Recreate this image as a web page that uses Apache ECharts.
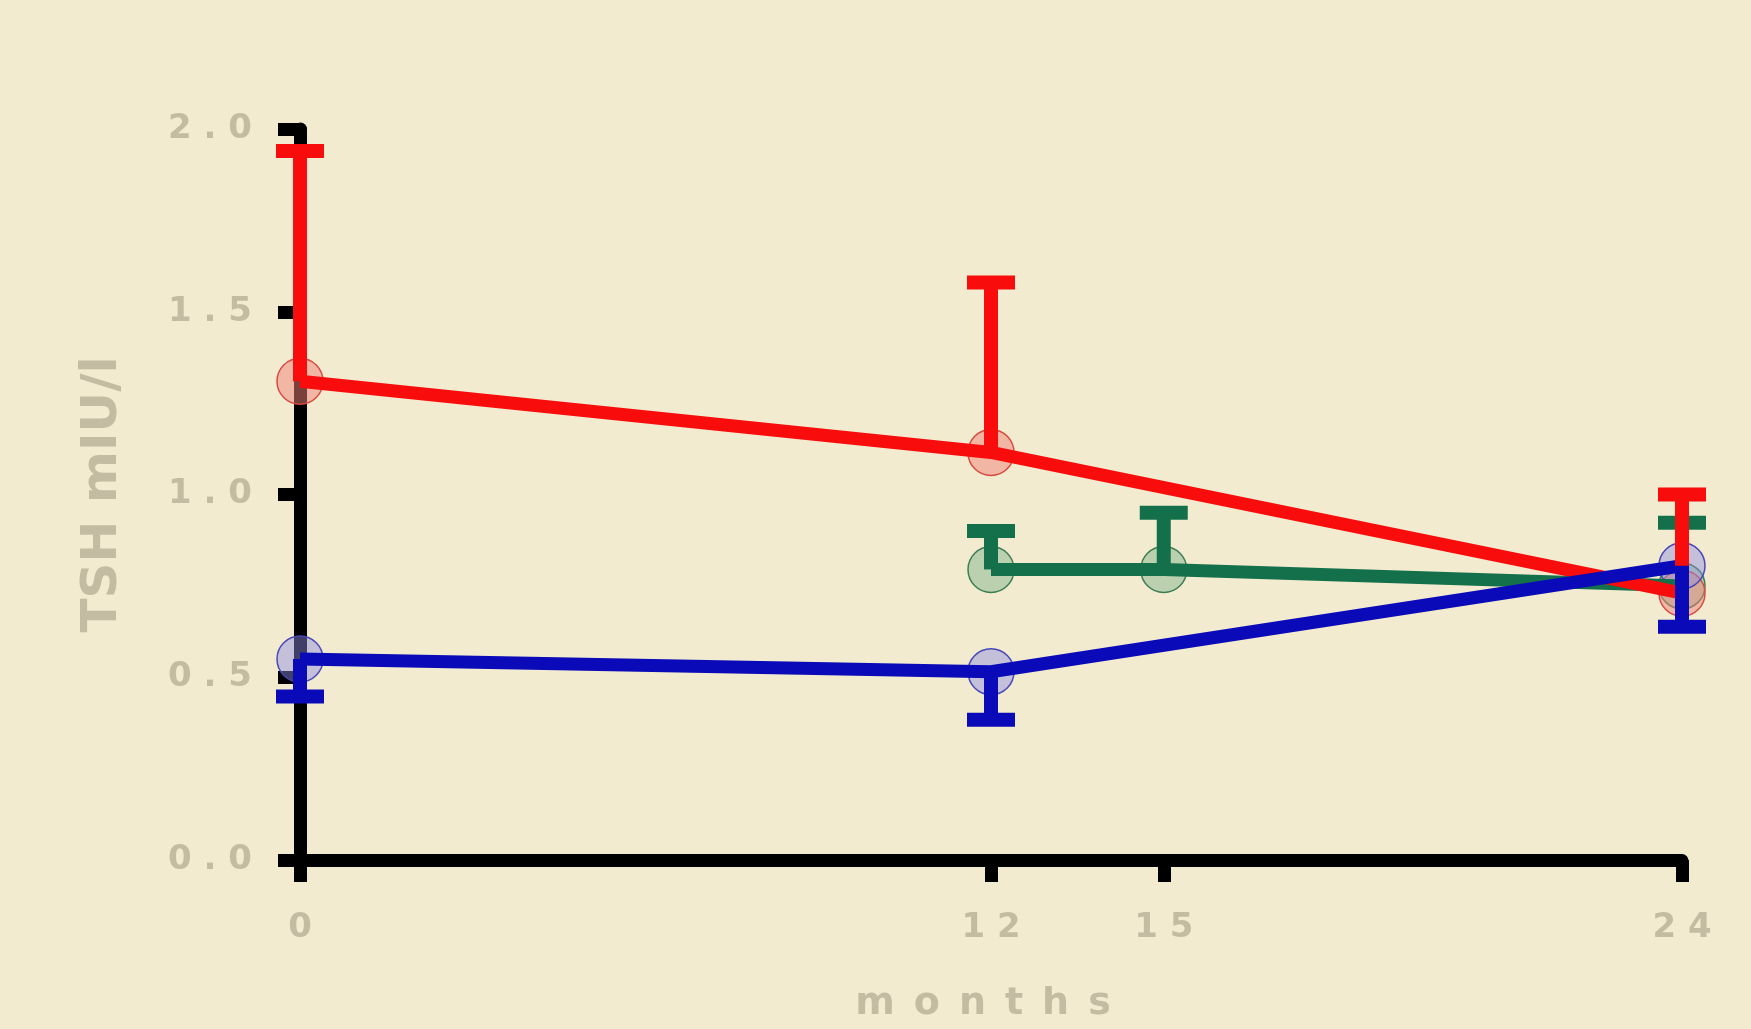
<!DOCTYPE html>
<html>
<head>
<meta charset="utf-8">
<script src="https://cdn.jsdelivr.net/npm/echarts@6/dist/echarts.min.js"></script>
<style>
  html, body { margin: 0; padding: 0; background: #f2ebd0; }
  #chart { width: 1751px; height: 1029px; }
</style>
</head>
<body>
<div id="chart"></div>
<script>
// tick positions
var monthTicks = [0, 12, 15, 24]
var tshTicks = [0, 0.5, 1.0, 1.5, 2.0]

// red group: mean and upper error
var redX = [0, 12, 24]
var redMean = [1.31, 1.115, 0.73]
var redErr = [0.63, 0.465, 0.27]

// green group: mean and upper error
var greenX = [12, 15, 24]
var greenMean = [0.795, 0.795, 0.75]
var greenErr = [0.105, 0.155, 0.173]

// blue group: mean and lower error
var blueX = [0, 12, 24]
var blueMean = [0.55, 0.515, 0.805]
var blueErr = [0.103, 0.131, 0.167]

var labelColor = '#c3bca3'
var font = 'DejaVu Sans'

// spread letters out like the original
function spaced (s, sep) {
  return String(s).split('').join(sep)
}

function pairs (xs, ys) {
  return xs.map(function (x, i) { return [x, ys[i]] })
}

// error bar: from mean to mean + dir*err, with a cap at the end
function errData (xs, ys, es, dir) {
  return xs.map(function (x, i) { return [x, ys[i], ys[i] + dir * es[i]] })
}

function errSeries (name, data, color, z) {
  return {
    name: name,
    type: 'custom',
    z: z,
    encode: { x: 0, y: [1, 2] },
    data: data,
    renderItem: function (params, api) {
      var p1 = api.coord([api.value(0), api.value(1)])
      var p2 = api.coord([api.value(0), api.value(2)])
      var style = { stroke: color, lineWidth: 14, lineCap: 'butt' }
      return {
        type: 'group',
        children: [
          { type: 'line', shape: { x1: p1[0], y1: p1[1], x2: p2[0], y2: p2[1] }, style: style },
          { type: 'line', shape: { x1: p2[0] - 24, y1: p2[1], x2: p2[0] + 24, y2: p2[1] }, style: style }
        ]
      }
    }
  }
}

function dotSeries (data, fill, border) {
  return {
    type: 'scatter',
    z: 1,
    symbol: 'circle',
    symbolSize: 46,
    data: data,
    itemStyle: { color: fill, borderColor: border, borderWidth: 1.5, opacity: 1 },
    silent: true
  }
}

function lineSeries (data, color, z) {
  return {
    type: 'line',
    z: z,
    data: data,
    showSymbol: false,
    lineStyle: { color: color, width: 13 },
    silent: true
  }
}

var red = '#f80c0c'
var green = '#13704a'
var blue = '#0a0ab8'

var chart = echarts.init(document.getElementById('chart'))
var option = {
  backgroundColor: '#f2ebd0',
  animation: false,
  grid: { left: 300, right: 69, top: 129, bottom: 169, outerBoundsMode: 'none' },
  xAxis: {
    type: 'value',
    min: 0,
    max: 24,
    name: spaced('months', '\u2002'),
    nameLocation: 'middle',
    nameGap: 125,
    nameTextStyle: { color: labelColor, fontSize: 38, fontWeight: 'bold', fontFamily: font, padding: [0, 16, 0, 0] },
    axisLine: { show: true, onZero: false, lineStyle: { color: '#000', width: 13 } },
    axisTick: { show: true, customValues: monthTicks, length: 22, lineStyle: { color: '#000', width: 13 } },
    axisLabel: {
      customValues: monthTicks,
      margin: 51,
      color: labelColor,
      fontSize: 34,
      fontWeight: 'bold',
      fontFamily: font,
      formatter: function (v) { return spaced(v, ' ') }
    },
    splitLine: { show: false }
  },
  yAxis: {
    type: 'value',
    min: 0,
    max: 2,
    interval: 0.5,
    name: 'TSH mIU/l',
    nameLocation: 'middle',
    nameRotate: 90,
    nameGap: 172,
    nameTextStyle: { color: labelColor, fontSize: 50, fontWeight: 'bold', fontFamily: font },
    axisLine: { show: true, onZero: false, lineStyle: { color: '#000', width: 13 } },
    axisTick: { show: true, customValues: tshTicks, length: 22, lineStyle: { color: '#000', width: 13 } },
    axisLabel: {
      customValues: tshTicks,
      margin: 48,
      color: labelColor,
      fontSize: 34,
      fontWeight: 'bold',
      fontFamily: font,
      formatter: function (v) { return spaced(v.toFixed(1), ' ') }
    },
    splitLine: { show: false }
  },
  series: [
    dotSeries(pairs(greenX, greenMean), 'rgba(120,175,135,0.45)', '#3d7d55'),
    dotSeries(pairs(redX, redMean), 'rgba(240,130,120,0.5)', '#d84a40'),
    dotSeries(pairs(blueX, blueMean), 'rgba(140,140,230,0.45)', '#4848b8'),
    lineSeries(pairs(greenX, greenMean), green, 2),
    lineSeries(pairs(redX, redMean), red, 3),
    lineSeries(pairs(blueX, blueMean), blue, 4),
    errSeries('green err', errData(greenX, greenMean, greenErr, 1), green, 5),
    errSeries('red err', errData(redX, redMean, redErr, 1), red, 6),
    errSeries('blue err', errData(blueX, blueMean, blueErr, -1), blue, 7)
  ]
}
chart.setOption(option)
</script>
</body>
</html>
